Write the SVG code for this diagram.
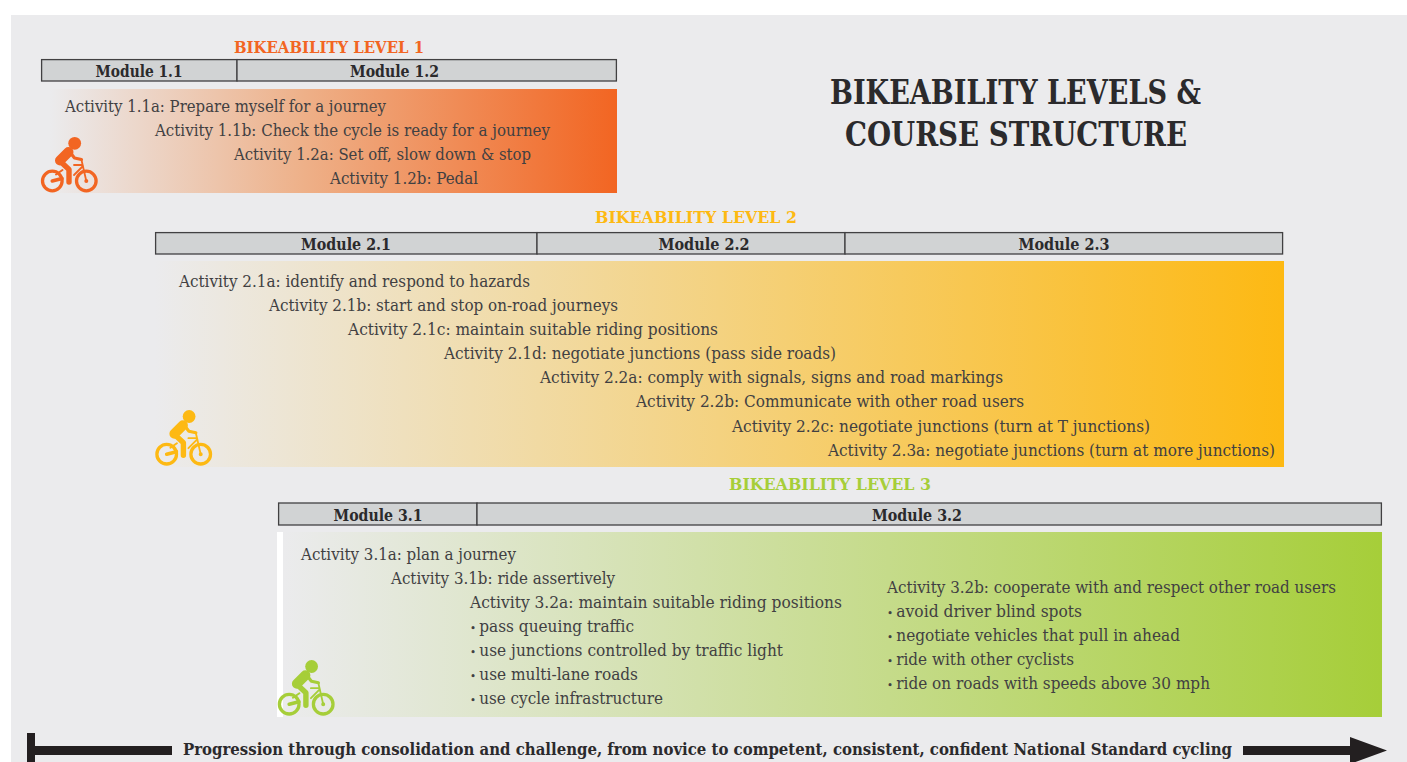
<svg xmlns="http://www.w3.org/2000/svg" xmlns:xlink="http://www.w3.org/1999/xlink" width="1407" height="762" viewBox="0 0 1407 762">
<style>
text{font-family:"DejaVu Serif Condensed","DejaVu Serif","Liberation Serif",serif;}
.a{font-size:16.5px;fill:#414042;}
.m{font-size:16.5px;font-weight:700;fill:#2b2a2c;text-anchor:middle;}
.l{font-size:16.5px;font-weight:700;}
.t{font-size:33px;font-weight:700;fill:#2b2a2c;}
.p{font-size:16.5px;font-weight:700;fill:#2b2a2c;}
.b{fill:#d1d3d4;stroke:#414042;stroke-width:1.3;}
.d{font-size:11px;}
</style>
<defs>
<linearGradient id="g1" x1="0" x2="1" y1="0" y2="0"><stop offset="0" stop-color="#ebebed"/><stop offset="0.45" stop-color="#eeb088"/><stop offset="1" stop-color="#f26522"/></linearGradient>
<linearGradient id="g2" x1="0" x2="1" y1="0" y2="0"><stop offset="0" stop-color="#ebebed"/><stop offset="1" stop-color="#fdb913"/></linearGradient>
<linearGradient id="g3" x1="0" x2="1" y1="0" y2="0"><stop offset="0" stop-color="#ebebed"/><stop offset="1" stop-color="#a6ce39"/></linearGradient>
<g id="bike" fill="none" stroke="currentColor" stroke-linecap="round" stroke-linejoin="round">
<circle cx="74.7" cy="143.3" r="6.4" stroke="none" fill="currentColor"/>
<path d="M60 160.5L68.5 152" stroke-width="10"/>
<path d="M61 162L69 169.5V182" stroke-width="5.4"/>
<path d="M69 151L74.5 158L81.5 159.5" stroke-width="3.2"/>
<circle cx="52.3" cy="181" r="9.8" stroke-width="3.3"/>
<circle cx="86.3" cy="181" r="9.8" stroke-width="3.3"/>
<path d="M52.3 181L62 178.5" stroke-width="3.6"/>
<path d="M56 174.5L62.5 170" stroke-width="2"/>
<path d="M81.5 160L86.3 181M74 165H82.5M74 175L83 166" stroke-width="1.8"/>
<circle cx="86.3" cy="181" r="1.2" stroke-width="1.6"/>
</g>
</defs>
<rect width="1407" height="762" fill="#ffffff"/>
<rect x="11" y="15" width="1396" height="747" fill="#ebebed"/>

<g id="title">
<text class="t" x="830" y="104" textLength="371" lengthAdjust="spacingAndGlyphs">BIKEABILITY LEVELS &amp;</text>
<text class="t" x="845" y="146" textLength="342" lengthAdjust="spacingAndGlyphs">COURSE STRUCTURE</text>
</g>

<g id="level-1">
<text class="l" fill="#f26522" x="234" y="53" textLength="190" lengthAdjust="spacingAndGlyphs">BIKEABILITY LEVEL 1</text>
<g id="module-1-1"><rect class="b" x="41.6" y="59.6" width="195.4" height="21.4"/><text class="m" x="139" y="77" textLength="87" lengthAdjust="spacingAndGlyphs">Module 1.1</text></g>
<g id="module-1-2"><rect class="b" x="237" y="59.6" width="379.4" height="21.4"/><text class="m" x="394.5" y="77" textLength="89" lengthAdjust="spacingAndGlyphs">Module 1.2</text></g>
<rect x="50" y="89" width="567" height="104" fill="url(#g1)"/>
<text class="a" x="65" y="112" textLength="321" lengthAdjust="spacingAndGlyphs">Activity 1.1a: Prepare myself for a journey</text>
<text class="a" x="155" y="136" textLength="395" lengthAdjust="spacingAndGlyphs">Activity 1.1b: Check the cycle is ready for a journey</text>
<text class="a" x="234" y="160" textLength="297" lengthAdjust="spacingAndGlyphs">Activity 1.2a: Set off, slow down &amp; stop</text>
<text class="a" x="330" y="184" textLength="148" lengthAdjust="spacingAndGlyphs">Activity 1.2b: Pedal</text>
<use xlink:href="#bike" href="#bike" color="#f26522"/>
</g>

<g id="level-2">
<text class="l" fill="#fdb913" x="595" y="223" textLength="202" lengthAdjust="spacingAndGlyphs">BIKEABILITY LEVEL 2</text>
<g id="module-2-1"><rect class="b" x="155.6" y="232.6" width="381.4" height="21.4"/><text class="m" x="346" y="250" textLength="90" lengthAdjust="spacingAndGlyphs">Module 2.1</text></g>
<g id="module-2-2"><rect class="b" x="537" y="232.6" width="308" height="21.4"/><text class="m" x="704" y="250" textLength="91" lengthAdjust="spacingAndGlyphs">Module 2.2</text></g>
<g id="module-2-3"><rect class="b" x="845" y="232.6" width="437.6" height="21.4"/><text class="m" x="1064" y="250" textLength="91" lengthAdjust="spacingAndGlyphs">Module 2.3</text></g>
<rect x="155" y="261" width="1129" height="206" fill="url(#g2)"/>
<text class="a" x="179" y="287" textLength="351" lengthAdjust="spacingAndGlyphs">Activity 2.1a: identify and respond to hazards</text>
<text class="a" x="269" y="311" textLength="349" lengthAdjust="spacingAndGlyphs">Activity 2.1b: start and stop on-road journeys</text>
<text class="a" x="348" y="335" textLength="370" lengthAdjust="spacingAndGlyphs">Activity 2.1c: maintain suitable riding positions</text>
<text class="a" x="444" y="359" textLength="392" lengthAdjust="spacingAndGlyphs">Activity 2.1d: negotiate junctions (pass side roads)</text>
<text class="a" x="540" y="383" textLength="463" lengthAdjust="spacingAndGlyphs">Activity 2.2a: comply with signals, signs and road markings</text>
<text class="a" x="636" y="407" textLength="388" lengthAdjust="spacingAndGlyphs">Activity 2.2b: Communicate with other road users</text>
<text class="a" x="732" y="432" textLength="418" lengthAdjust="spacingAndGlyphs">Activity 2.2c: negotiate junctions (turn at T junctions)</text>
<text class="a" x="828" y="456" textLength="447" lengthAdjust="spacingAndGlyphs">Activity 2.3a: negotiate junctions (turn at more junctions)</text>
<use xlink:href="#bike" href="#bike" transform="translate(114.4 273.2)" color="#fdb913"/>
</g>

<g id="level-3">
<text class="l" fill="#a6ce39" x="729" y="490" textLength="202" lengthAdjust="spacingAndGlyphs">BIKEABILITY LEVEL 3</text>
<g id="module-3-1"><rect class="b" x="278.6" y="503" width="198.4" height="22"/><text class="m" x="378" y="521" textLength="89" lengthAdjust="spacingAndGlyphs">Module 3.1</text></g>
<g id="module-3-2"><rect class="b" x="477" y="503" width="904.4" height="22"/><text class="m" x="917" y="521" textLength="90" lengthAdjust="spacingAndGlyphs">Module 3.2</text></g>
<rect x="277" y="532" width="6" height="185" fill="#ffffff"/>
<rect x="283" y="532" width="1099" height="185" fill="url(#g3)"/>
<text class="a" x="301" y="560" textLength="215" lengthAdjust="spacingAndGlyphs">Activity 3.1a: plan a journey</text>
<text class="a" x="391" y="584" textLength="224" lengthAdjust="spacingAndGlyphs">Activity 3.1b: ride assertively</text>
<text class="a" x="470" y="608" textLength="372" lengthAdjust="spacingAndGlyphs">Activity 3.2a: maintain suitable riding positions</text>
<text class="a" x="470" y="632" textLength="164" lengthAdjust="spacingAndGlyphs"><tspan class="d">• </tspan>pass queuing traffic</text>
<text class="a" x="470" y="656" textLength="313" lengthAdjust="spacingAndGlyphs"><tspan class="d">• </tspan>use junctions controlled by traffic light</text>
<text class="a" x="470" y="680" textLength="168" lengthAdjust="spacingAndGlyphs"><tspan class="d">• </tspan>use multi-lane roads</text>
<text class="a" x="470" y="704" textLength="193" lengthAdjust="spacingAndGlyphs"><tspan class="d">• </tspan>use cycle infrastructure</text>
<text class="a" x="887" y="593" textLength="449" lengthAdjust="spacingAndGlyphs">Activity 3.2b: cooperate with and respect other road users</text>
<text class="a" x="887" y="617" textLength="195" lengthAdjust="spacingAndGlyphs"><tspan class="d">• </tspan>avoid driver blind spots</text>
<text class="a" x="887" y="641" textLength="293" lengthAdjust="spacingAndGlyphs"><tspan class="d">• </tspan>negotiate vehicles that pull in ahead</text>
<text class="a" x="887" y="665" textLength="187" lengthAdjust="spacingAndGlyphs"><tspan class="d">• </tspan>ride with other cyclists</text>
<text class="a" x="887" y="689" textLength="323" lengthAdjust="spacingAndGlyphs"><tspan class="d">• </tspan>ride on roads with speeds above 30 mph</text>
<use xlink:href="#bike" href="#bike" transform="translate(236.9 523.2)" color="#a6ce39"/>
</g>

<g id="connectors" fill="#231f20">
<path d="M27 733H35V746H172V755H35V762H27Z"/>
<path d="M1243 746H1350V737L1387 750.5L1350 764V755H1243Z"/>
</g>
<g id="progression">
<text class="p" x="183" y="755" textLength="1049" lengthAdjust="spacingAndGlyphs">Progression through consolidation and challenge, from novice to competent, consistent, confident National Standard cycling</text>
</g>
</svg>
